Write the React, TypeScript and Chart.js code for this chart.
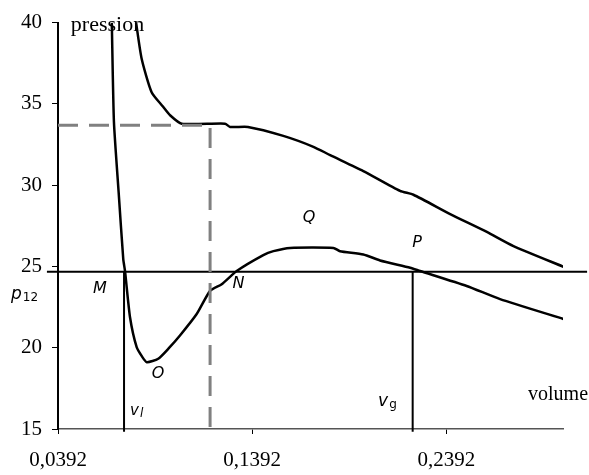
import React, { useEffect, useRef } from "react";
import { Chart, registerables } from "chart.js";

Chart.register(...registerables);

// Lower isotherm (van der Waals loop) : volume / pression
const loopVolumes = [0.0669, 0.068, 0.0704, 0.0728, 0.0737, 0.0763, 0.0797, 0.0825, 0.0849, 0.0908, 0.0965, 0.102, 0.1106, 0.1175, 0.1235, 0.1312, 0.1449, 0.1501, 0.1587, 0.181, 0.1844, 0.1964, 0.205, 0.2205, 0.2256, 0.2496, 0.2668, 0.2994];
const loopPressures = [40, 33.89, 29.6, 25.45, 24.72, 21.86, 20.03, 19.45, 19.11, 19.32, 20.0, 20.75, 22.07, 23.5, 23.91, 24.72, 25.7, 25.94, 26.14, 26.14, 25.94, 25.74, 25.37, 24.92, 24.72, 23.8, 22.99, 21.77];

// Upper isotherm
const upperVolumes = [0.0794, 0.0823, 0.0874, 0.0931, 0.0969, 0.1029, 0.1252, 0.1278, 0.137, 0.1552, 0.1707, 0.1793, 0.1964, 0.2153, 0.2222, 0.2411, 0.26, 0.2737, 0.2994];
const upperPressures = [40, 37.76, 35.72, 34.85, 34.3, 33.78, 33.78, 33.58, 33.58, 33.03, 32.36, 31.85, 30.87, 29.65, 29.41, 28.22, 27.12, 26.25, 24.98];

// Reference levels
const p12 = 24.68;
const p12LineVolumes = [0.0335, 0.3116];
const vl = 0.0732;
const vg = 0.2218;
const verticalBottom = 14.83;
const dashedPressure = 33.69;
const dashedVolume = 0.1175;

// Axes
const volumeTicks = [0.0392, 0.1392, 0.2392];
const volumeMin = 0.0392;
const volumeMax = 0.2992;
const pressureMin = 15;
const pressureMax = 40;
const pressureStep = 5;

// Annotations (data coordinates)
const pointLabels = [
  { text: "M", x: 0.0608, y: 23.65 },
  { text: "O", x: 0.0907, y: 18.42 },
  { text: "N", x: 0.1321, y: 23.92 },
  { text: "Q", x: 0.1684, y: 27.96 },
  { text: "P", x: 0.2241, y: 26.46 },
];
const subLabels = [
  { main: "p", sub: "12", x: 0.015, y: 23.01, mainSize: 17, subSize: 12, subItalic: false },
  { main: "v", sub: "l", x: 0.0763, y: 15.86, mainSize: 15, subSize: 12, subItalic: true },
  { main: "v", sub: "g", x: 0.204, y: 16.41, mainSize: 17, subSize: 12, subItalic: false },
];
const axisTitles = [
  { text: "pression", x: 0.0647, y: 39.51, align: "center" as CanvasTextAlign, size: 22 },
  { text: "volume", x: 0.3121, y: 16.77, align: "right" as CanvasTextAlign, size: 20 },
];

const toPoints = (xs: number[], ys: number[]) => xs.map((x, i) => ({ x, y: ys[i] }));

const textPlugin = {
  id: "textLabels",
  afterDatasetsDraw(chart: any) {
    const { ctx, scales } = chart;
    const xs = scales.x;
    const ys = scales.y;
    ctx.save();
    ctx.fillStyle = "#000";
    ctx.font = "italic 16px 'DejaVu Sans'";
    ctx.textAlign = "center";
    ctx.textBaseline = "middle";
    pointLabels.forEach((l) => {
      ctx.fillText(l.text, xs.getPixelForValue(l.x), ys.getPixelForValue(l.y));
    });
    ctx.textAlign = "left";
    ctx.textBaseline = "alphabetic";
    subLabels.forEach((l) => {
      const px = xs.getPixelForValue(l.x);
      const py = ys.getPixelForValue(l.y);
      ctx.font = `italic ${l.mainSize}px 'DejaVu Sans'`;
      ctx.fillText(l.main, px, py);
      const w = ctx.measureText(l.main).width;
      ctx.font = `${l.subItalic ? "italic " : ""}${l.subSize}px 'DejaVu Sans'`;
      ctx.fillText(l.sub, px + w + 1, py + 2);
    });
    axisTitles.forEach((t) => {
      ctx.font = `${t.size}px 'Liberation Serif'`;
      ctx.textAlign = t.align;
      ctx.fillText(t.text, xs.getPixelForValue(t.x), ys.getPixelForValue(t.y));
    });
    ctx.restore();
  },
};

export default function App() {
  const ref = useRef<HTMLCanvasElement | null>(null);
  useEffect(() => {
    document.body.style.margin = "0";
    if (!ref.current) return;
    const chart = new Chart(ref.current, {
      type: "scatter",
      data: {
        datasets: [
          {
            data: toPoints([volumeMin, dashedVolume, dashedVolume], [dashedPressure, dashedPressure, pressureMin]),
            showLine: true,
            borderColor: "#808080",
            borderWidth: 3,
            borderDash: [20, 11],
            pointRadius: 0,
            clip: false as any,
          },
          {
            data: toPoints(p12LineVolumes, [p12, p12]),
            showLine: true,
            borderColor: "#000",
            borderWidth: 2,
            pointRadius: 0,
            clip: false as any,
          },
          {
            data: toPoints([vl, vl], [p12, verticalBottom]),
            showLine: true,
            borderColor: "#000",
            borderWidth: 2,
            pointRadius: 0,
            clip: false as any,
          },
          {
            data: toPoints([vg, vg], [p12, verticalBottom]),
            showLine: true,
            borderColor: "#000",
            borderWidth: 2,
            pointRadius: 0,
            clip: false as any,
          },
          {
            data: toPoints(loopVolumes, loopPressures),
            showLine: true,
            borderColor: "#000",
            borderWidth: 2.5,
            pointRadius: 0,
            tension: 0.2,
          },
          {
            data: toPoints(upperVolumes, upperPressures),
            showLine: true,
            borderColor: "#000",
            borderWidth: 2.5,
            pointRadius: 0,
            tension: 0.2,
          },
        ],
      },
      options: {
        responsive: false,
        animation: false,
        layout: { padding: { top: 20, right: 26, left: 0, bottom: 0 } },
        plugins: { legend: { display: false }, tooltip: { enabled: false } },
        scales: {
          x: {
            type: "linear",
            min: volumeMin,
            max: volumeMax,
            afterBuildTicks: (scale: any) => {
              scale.ticks = volumeTicks.map((v) => ({ value: v }));
            },
            afterFit: (scale: any) => {
              scale.height = 46;
            },
            ticks: {
              color: "#000",
              font: { family: "'Liberation Serif'", size: 21 },
              padding: 14,
              maxRotation: 0,
              autoSkip: false,
              callback: (v: any) => Number(v).toFixed(4).replace(".", ","),
            },
            grid: { drawOnChartArea: false, drawTicks: true, tickLength: 5, color: "#000" },
            border: { display: true, color: "#555", width: 1.5 },
          },
          y: {
            type: "linear",
            min: pressureMin,
            max: pressureMax,
            afterFit: (scale: any) => {
              scale.width = 58;
            },
            ticks: {
              stepSize: pressureStep,
              color: "#000",
              font: { family: "'Liberation Serif'", size: 21 },
              padding: 10,
            },
            grid: { drawOnChartArea: false, drawTicks: true, tickLength: 6, color: "#000" },
            border: { display: true, color: "#000", width: 2 },
          },
        },
      },
      plugins: [textPlugin],
    });
    return () => chart.destroy();
  }, []);
  return <canvas ref={ref} width={589} height={475} style={{ display: "block", width: 589, height: 475 }} />;
}
